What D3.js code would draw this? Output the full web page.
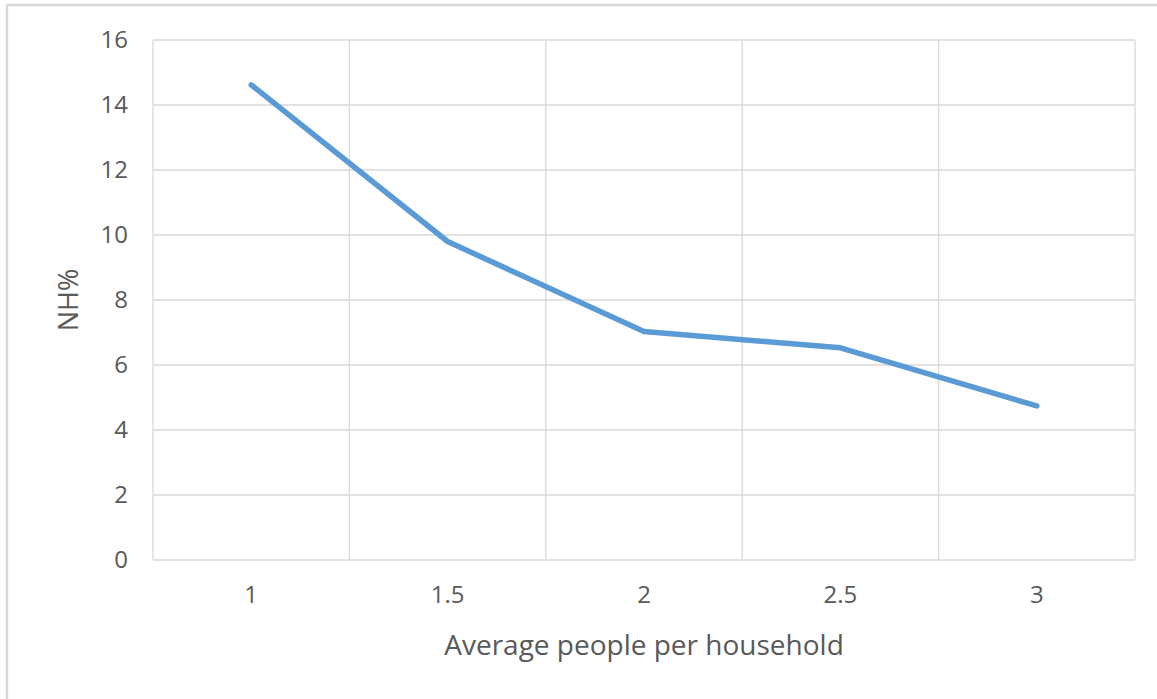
<!DOCTYPE html>
<html>
<head>
<meta charset="utf-8">
<script src="https://cdn.jsdelivr.net/npm/d3@7"></script>
<style>
  html, body { margin: 0; padding: 0; background: #ffffff; }
  svg { display: block; }
  text { font-family: "Open Sans", "Noto Sans", sans-serif; fill: #595959; }
</style>
</head>
<body>
<svg id="chart" width="1157" height="699"></svg>
<script>
// Household size categories and share of NH (%)
const categories = ["1", "1.5", "2", "2.5", "3"];
const nhPercent = [14.62, 9.8, 7.03, 6.53, 4.74];
const yTicks = [0, 2, 4, 6, 8, 10, 12, 14, 16];
const xTitle = "Average people per household";
const yTitle = "NH%";

const W = 1157, H = 699;
const margin = { left: 153, top: 40, right: 22, bottom: 139 };
const plotW = W - margin.left - margin.right;
const plotH = H - margin.top - margin.bottom;

const svg = d3.select("#chart");

// chart frame
svg.append("rect")
  .attr("x", 7).attr("y", 5)
  .attr("width", W + 10).attr("height", H + 10)
  .attr("fill", "#ffffff")
  .attr("stroke", "#d9d9d9")
  .attr("stroke-width", 2.5);

const g = svg.append("g").attr("transform", `translate(${margin.left},${margin.top})`);

const x = d3.scaleBand().domain(categories).range([0, plotW]).padding(0);
const y = d3.scaleLinear().domain([0, 16]).range([plotH, 0]);

// horizontal gridlines
g.append("g")
  .selectAll("line")
  .data(yTicks)
  .join("line")
  .attr("x1", 0).attr("x2", plotW)
  .attr("y1", d => y(d)).attr("y2", d => y(d))
  .attr("stroke", "#d9d9d9").attr("stroke-width", 1.3);

// vertical gridlines at category boundaries
const bounds = categories.map(c => x(c)).concat([plotW]);
g.append("g")
  .selectAll("line")
  .data(bounds)
  .join("line")
  .attr("x1", d => d).attr("x2", d => d)
  .attr("y1", 0).attr("y2", plotH)
  .attr("stroke", "#d9d9d9").attr("stroke-width", 1.3);

// y axis labels
const yAxis = d3.axisLeft(y).tickValues(yTicks).tickSize(0).tickPadding(25).tickFormat(d3.format("d"));
const ya = g.append("g").call(yAxis);
ya.select(".domain").remove();
ya.selectAll("text").attr("font-size", 24).attr("fill", "#595959")
  .style("font-family", '"Open Sans", sans-serif');

// x axis labels
const xAxis = d3.axisBottom(x).tickSize(0).tickPadding(26);
const xa = g.append("g").attr("transform", `translate(0,${plotH})`).call(xAxis);
xa.select(".domain").remove();
xa.selectAll("text").attr("font-size", 24).attr("fill", "#595959")
  .style("font-family", '"Open Sans", sans-serif');

// data line
const line = d3.line()
  .x((d, i) => x(categories[i]) + x.bandwidth() / 2)
  .y(d => y(d));

g.append("path")
  .datum(nhPercent)
  .attr("d", line)
  .attr("fill", "none")
  .attr("stroke", "#5b9bd5")
  .attr("stroke-width", 5.5)
  .attr("stroke-linejoin", "round")
  .attr("stroke-linecap", "round");

// axis titles
svg.append("text")
  .attr("x", margin.left + plotW / 2)
  .attr("y", 655)
  .attr("text-anchor", "middle")
  .attr("font-size", 28)
  .text(xTitle);

svg.append("text")
  .attr("transform", `translate(78,${margin.top + plotH / 2}) rotate(-90)`)
  .attr("text-anchor", "middle")
  .attr("font-size", 27)
  .text(yTitle);
</script>
</body>
</html>
